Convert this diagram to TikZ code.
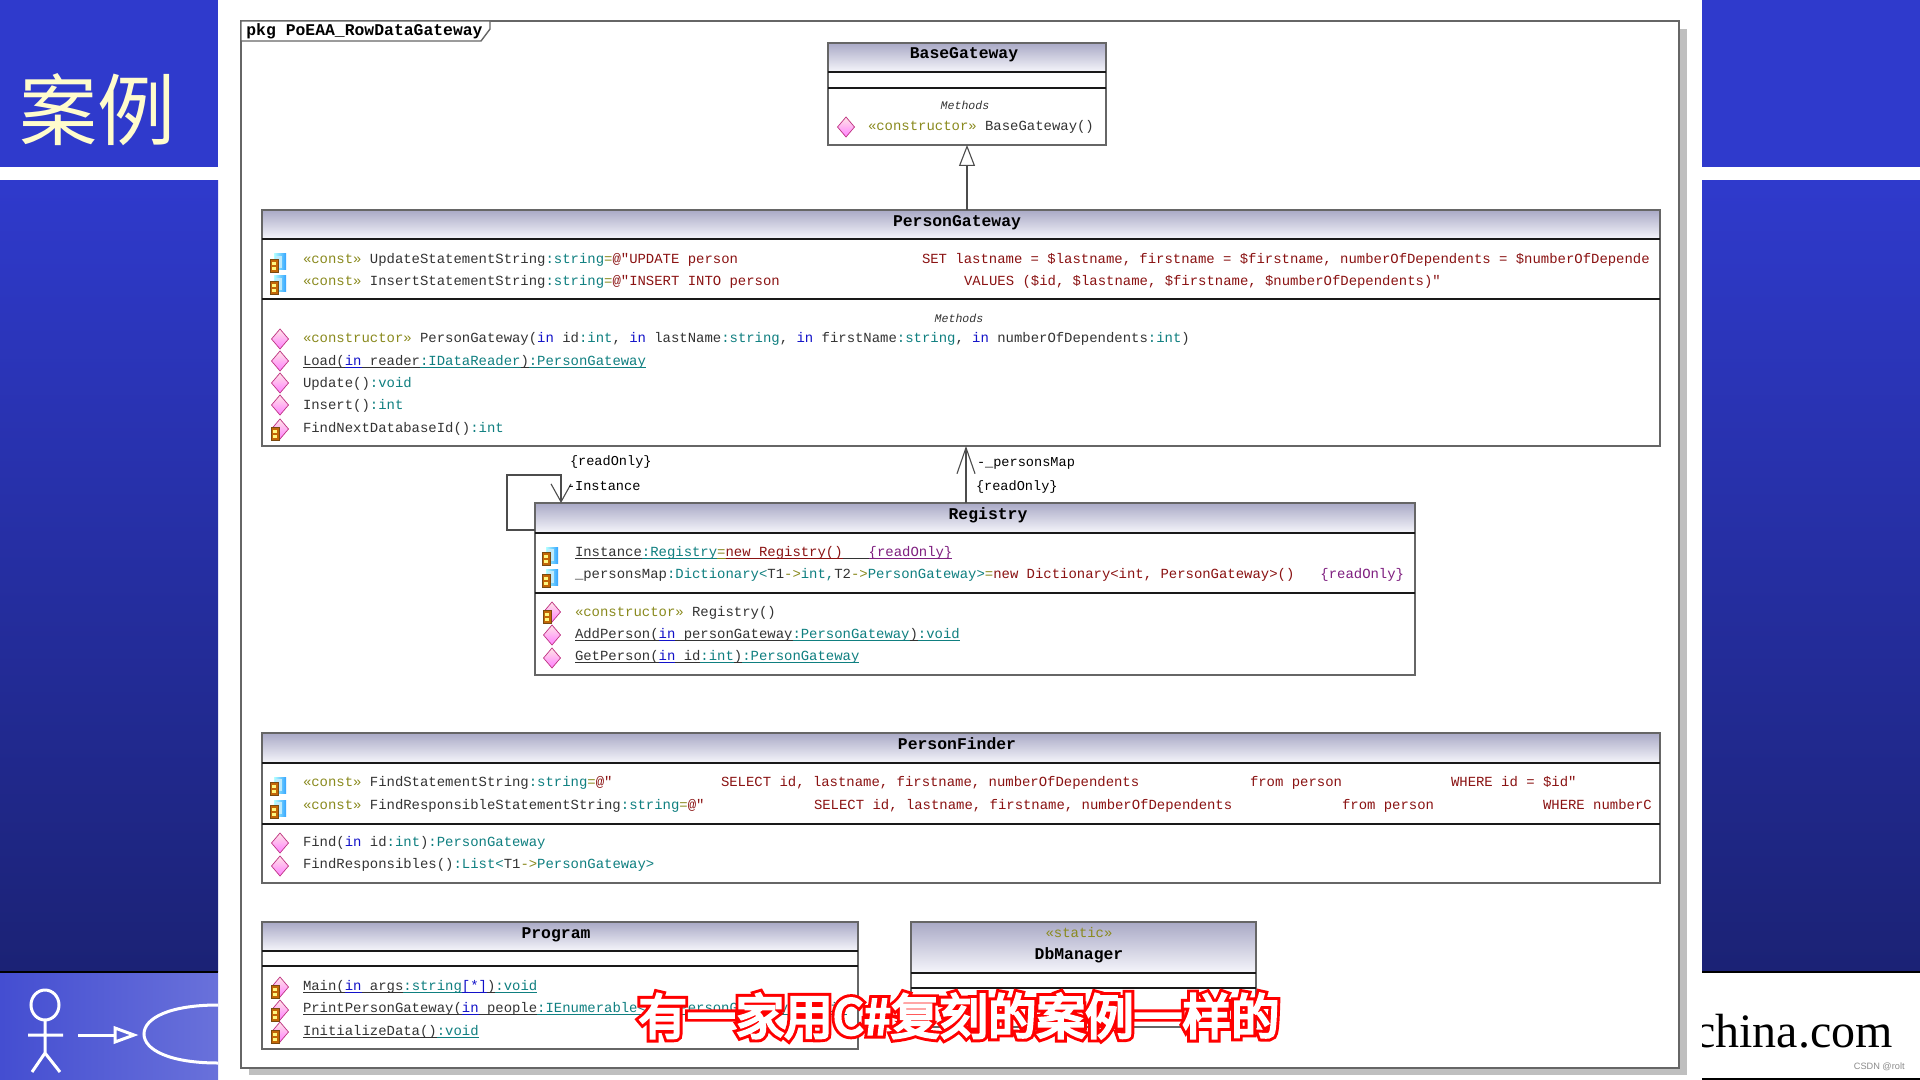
\documentclass[tikz,border=0pt]{standalone}
\usepackage{fontspec}
\usetikzlibrary{arrows.meta,calc}
\setmainfont{Liberation Serif}
\setsansfont{Liberation Sans}
\setmonofont{Liberation Mono}
\newfontfamily\cjk{Noto Sans CJK SC}
\newfontfamily\cjkA[FakeBold=17]{Noto Sans CJK SC}
\newfontfamily\cjkB[FakeBold=5]{Noto Sans CJK SC}
\definecolor{hTop}{HTML}{A9A9C6}
\definecolor{hBot}{HTML}{F6F6FB}
\definecolor{cName}{HTML}{333333}
\definecolor{cSter}{HTML}{8A8A1E}
\definecolor{cType}{HTML}{0F7F80}
\definecolor{cKey}{HTML}{1212C8}
\definecolor{cVal}{HTML}{8A1212}
\definecolor{cRO}{HTML}{7F1F80}
\definecolor{bl1}{HTML}{2F3ACC}
\definecolor{bl2}{HTML}{1B2275}
\definecolor{lockB}{HTML}{7A4A10}
\newcommand\cS[1]{{\color{cSter}#1}}
\newcommand\cT[1]{{\color{cType}#1}}
\newcommand\cK[1]{{\color{cKey}#1}}
\newcommand\cV[1]{{\color{cVal}#1}}
\newcommand\cR[1]{{\color{cRO}#1}}
\newcommand\ULn[1]{\setbox0\hbox{#1}\rlap{\rule[-1.4pt]{\wd0}{0.55pt}}\box0}
\tikzset{
 x=0.5pt,y=-0.5pt,
 member/.style={anchor=base west,inner sep=0,outer sep=0,font=\ttfamily\fontsize{6.97}{8}\selectfont,text=cName},
 title/.style={anchor=base,inner sep=0,outer sep=0,font=\ttfamily\bfseries\fontsize{8.2}{9}\selectfont,text=black},
 small/.style={anchor=base,inner sep=0,outer sep=0,font=\ttfamily\itshape\fontsize{5.8}{7}\selectfont,text=cName},
 stereo/.style={anchor=base,inner sep=0,outer sep=0,font=\ttfamily\fontsize{6.97}{8}\selectfont,text=cSter},
 assoc/.style={anchor=base west,inner sep=0,outer sep=0,font=\ttfamily\fontsize{6.8}{8}\selectfont,text=black},
 classbox/.style={draw=black!60,line width=0.7pt,fill=white,anchor=north west,inner sep=0,outer sep=0},
 sepline/.style={draw=black!90,line width=0.9pt},
 conn/.style={draw=black!70,line width=0.55pt},
}
\newcommand\ClassBox[7]{% name x1 y1 x2 y2 yh yl
 \pgfmathsetmacro\bw{(#4-#2)*0.5}\pgfmathsetmacro\bh{(#5-#3)*0.5}
 \node[classbox,minimum width=\bw pt,minimum height=\bh pt] (#1) at (#2,#3) {};
 \shade[top color=hTop,bottom color=hBot] (#2,#3) rectangle (#4,#6);
 \draw[draw=black!60,line width=0.7pt] (#2,#3) rectangle (#4,#5);
 \draw[sepline] (#2,#6) -- (#4,#6);
 \draw[sepline] (#2,#7) -- (#4,#7);
}
\newcommand\IcoLock[2]{\begin{scope}[shift={(#1,#2)}]
 \fill[draw=lockB,line width=0.45pt,fill=orange!55!lockB] (-4,-6) rectangle (4,7);
 \fill[yellow!50!white] (-2,-3) rectangle (2,0);
 \fill[yellow!50!white] (-2,2) rectangle (2,5);
\end{scope}}
\newcommand\IcoAttr[2]{\begin{scope}[shift={(#1,#2)}]
 \shade[left color=cyan!30!white,right color=blue!45!cyan!80!white] (-3,-8) rectangle (9,8);
 \fill[white!75!cyan] (-1,-6) rectangle (5,6);
 \IcoLock{-3}{3}
\end{scope}}
\newcommand\IcoOp[2]{\begin{scope}[shift={(#1,#2)}]
 \shade[top color=pink!40!white,bottom color=magenta!50!white,draw=magenta!50!violet,line width=0.35pt] (0,-10) -- (8.5,0) -- (0,10) -- (-8.5,0) -- cycle;
\end{scope}}
\newcommand\IcoOpL[2]{\IcoOp{#1}{#2}\IcoLock{\the\numexpr#1-5\relax}{\the\numexpr#2+4\relax}}
\begin{document}
\begin{tikzpicture}
\useasboundingbox (0,0) rectangle (1920,1080);
\fill[white] (0,0) rectangle (1920,1080);
% side panels
\fill[bl1] (0,0) rectangle (218,167);
\fill[bl1] (1702,0) rectangle (1920,167);
\shade[top color=bl1,bottom color=bl2] (0,181) rectangle (218,971);
\shade[top color=bl1,bottom color=bl2] (1702,181) rectangle (1920,971);
\fill[black] (1702,971) rectangle (1920,973);
\fill[black] (1702,1078) rectangle (1920,1080);
\shade[left color=bl1!90!white,right color=bl1!72!white] (0,971) rectangle (218,1080);
\fill[black] (0,971) rectangle (218,973);
\node[anchor=center,inner sep=0,text=yellow!20!white,font=\cjk\fontsize{39}{42}\selectfont] (heading) at (97,110) {案例};
% actor
\begin{scope}[draw=white,line width=1.5pt]
 \draw (45,1005) ellipse (14 and 15);
 \draw (45,1020) -- (45,1053) (28,1035) -- (63,1035) (32,1072) -- (45,1053) -- (60,1072);
 \draw (78,1035) -- (115,1035);
 \draw (115,1028) -- (134,1035) -- (115,1042) -- cycle;
 \draw (218,1005) .. controls (170,1005) and (144,1018) .. (144,1034) .. controls (144,1050) and (170,1063) .. (218,1063);
\end{scope}
\begin{scope}
 \clip (1702,973) rectangle (1920,1078);
 \node[anchor=base east,inner sep=0,text=black,font=\rmfamily\fontsize{24}{28}\selectfont] (site) at (1893,1047) {china.com};
\end{scope}
\node[anchor=base east,inner sep=0,text=black!45,font=\sffamily\fontsize{4.6}{5}\selectfont] (csdn) at (1905,1069) {CSDN @rolt};
% frame
\fill[black!25] (249,29) rectangle (1687,1075);
\node[draw=black!60,line width=0.7pt,fill=white,anchor=north west,inner sep=0,outer sep=0,minimum width=719pt,minimum height=523.5pt] (frame) at (241,21) {};
\draw[draw=black!60,line width=0.7pt,fill=white] (241,21) -- (490,21) -- (490,29) -- (481,41) -- (241,41) -- cycle;
\node[anchor=base west,inner sep=0,font=\ttfamily\bfseries\fontsize{8.2}{9}\selectfont] (pkg) at (246,36) {pkg PoEAA\_RowDataGateway};
% BaseGateway
\ClassBox{base}{828}{43}{1106}{145}{72}{88}
\node[title] (baset) at (964,59) {BaseGateway};
\node[small] (basem) at (965,110) {Methods};
\IcoOp{846}{127}
\node[member] (base1) at (868,131) {\cS{«constructor»} BaseGateway()};
% PersonGateway
\ClassBox{pg}{262}{210}{1660}{446}{239}{299}
\node[title] (pgt) at (957,227) {PersonGateway};
\IcoAttr{277}{262}\IcoAttr{277}{284}
\node[member] (pg1) at (303,264) {\cS{«const»} UpdateStatementString\cT{:string}\cS{=}\cV{@"UPDATE person}};
\node[member] (pg2) at (303,286) {\cS{«const»} InsertStatementString\cT{:string}\cS{=}\cV{@"INSERT INTO person}};
\node[member,text=cVal] (pg1b) at (922,264) {SET lastname = \$lastname, firstname = \$firstname, numberOfDependents = \$numberOfDepende};
\node[member,text=cVal] (pg2b) at (964,286) {VALUES (\$id, \$lastname, \$firstname, \$numberOfDependents)"};
\node[small] (pgm) at (959,322) {Methods};
\IcoOp{280}{339}\IcoOp{280}{361}\IcoOp{280}{383}\IcoOp{280}{405}\IcoOpL{280}{429}
\node[member] (pg3) at (303,343) {\cS{«constructor»} PersonGateway(\cK{in} id\cT{:int}, \cK{in} lastName\cT{:string}, \cK{in} firstName\cT{:string}, \cK{in} numberOfDependents\cT{:int})};
\node[member] (pg4) at (303,365) {\ULn{Load(}\cK{\ULn{in}}\ULn{ reader}\cT{\ULn{:IDataReader}}\ULn{)}\cT{\ULn{:PersonGateway}}};
\node[member] (pg5) at (303,387) {Update()\cT{:void}};
\node[member] (pg6) at (303,409) {Insert()\cT{:int}};
\node[member] (pg7) at (303,432) {FindNextDatabaseId()\cT{:int}};
% Registry
\ClassBox{reg}{535}{503}{1415}{675}{533}{593}
\node[title] (regt) at (988,519) {Registry};
\IcoAttr{549}{555}\IcoAttr{549}{577}
\node[member] (reg1) at (575,556) {\ULn{Instance}\cT{\ULn{:Registry}}\cS{\ULn{=}}\cV{\ULn{new Registry()}}\ULn{\hspace{13pt}}\cR{\ULn{\{readOnly\}}}};
\node[member] (reg2) at (575,578) {\_personsMap\cT{:Dictionary<}T1\cS{->}\cT{int,}T2\cS{->}\cT{PersonGateway>}\cS{=}\cV{new Dictionary<int, PersonGateway>()}\hspace{13pt}\cR{\{readOnly\}}};
\IcoOpL{552}{612}\IcoOp{552}{635}\IcoOp{552}{658}
\node[member] (reg3) at (575,616) {\cS{«constructor»} Registry()};
\node[member] (reg4) at (575,638) {\ULn{AddPerson(}\cK{\ULn{in}}\ULn{ personGateway}\cT{\ULn{:PersonGateway}}\ULn{)}\cT{\ULn{:void}}};
\node[member] (reg5) at (575,660) {\ULn{GetPerson(}\cK{\ULn{in}}\ULn{ id}\cT{\ULn{:int}}\ULn{)}\cT{\ULn{:PersonGateway}}};
% connectors
\coordinate (gA) at (967,210);
\draw[conn,-{Triangle[open,length=10.5pt,width=8pt,fill=white]}] (gA) -- (base.south -| gA);
\coordinate (mA) at (966,503);
\draw[conn,-{Straight Barb[length=13pt,width=9pt]}] (mA) -- (pg.south -| mA);
\coordinate (sA) at (535,530);
\coordinate (sB) at (507,530);
\coordinate (sC) at (507,475);
\coordinate (sD) at (561,475);
\coordinate (sE) at (561,503);
\draw[conn,-{Straight Barb[length=9pt,width=10pt]}] (sA) -- (sB) -- (sC) -- (sD) -- (sE);
\node[assoc] (la1) at (570,465) {\{readOnly\}};
\node[assoc] (la2) at (567,490) {-Instance};
\node[assoc] (la3) at (977,466) {-\_personsMap};
\node[assoc] (la4) at (976,490) {\{readOnly\}};
% PersonFinder
\ClassBox{pf}{262}{733}{1660}{883}{763}{824}
\node[title] (pft) at (957,749) {PersonFinder};
\IcoAttr{277}{785}\IcoAttr{277}{808}
\node[member] (pf1) at (303,786) {\cS{«const»} FindStatementString\cT{:string}\cS{=}\cV{@"}};
\node[member] (pf2) at (303,809) {\cS{«const»} FindResponsibleStatementString\cT{:string}\cS{=}\cV{@"}};
\node[member,text=cVal] (pf1b) at (721,786) {SELECT id, lastname, firstname, numberOfDependents};
\node[member,text=cVal] (pf1c) at (1250,786) {from person};
\node[member,text=cVal] (pf1d) at (1451,786) {WHERE id = \$id"};
\node[member,text=cVal] (pf2b) at (814,809) {SELECT id, lastname, firstname, numberOfDependents};
\node[member,text=cVal] (pf2c) at (1342,809) {from person};
\node[member,text=cVal] (pf2d) at (1543,809) {WHERE numberC};
\IcoOp{280}{843}\IcoOp{280}{866}
\node[member] (pf3) at (303,846) {Find(\cK{in} id\cT{:int})\cT{:PersonGateway}};
\node[member] (pf4) at (303,868) {FindResponsibles()\cT{:List<}T1\cS{->}\cT{PersonGateway>}};
% Program
\ClassBox{prog}{262}{922}{858}{1049}{951}{966}
\node[title] (progt) at (556,938) {Program};
\IcoOpL{280}{987}\IcoOpL{280}{1010}\IcoOpL{280}{1032}
\node[member] (pr1) at (303,990) {\ULn{Main(}\cK{\ULn{in}}\ULn{ args}\cT{\ULn{:string}}\cK{\ULn{[*]}}\ULn{)}\cT{\ULn{:void}}};
\node[member] (pr2) at (303,1012) {\ULn{PrintPersonGateway(}\cK{\ULn{in}}\ULn{ people}\cT{\ULn{:IEnumerable<T1->PersonGateway>}}\ULn{)}\cT{\ULn{:void}}};
\node[member] (pr3) at (303,1035) {\ULn{InitializeData()}\cT{\ULn{:void}}};
% DbManager
\ClassBox{db}{911}{922}{1256}{1027}{973}{988}
\node[stereo] (dbs) at (1079,937) {«static»};
\node[title] (dbt) at (1079,959) {DbManager};
% subtitle: red outline under white glyphs
\coordinate (subt) at (959,1016);
\node[anchor=center,inner sep=0,text=red,font=\cjkA\fontsize{24.3}{28}\selectfont] (sub1) at (subt) {有一家用C\#复刻的案例一样的};
\node[anchor=center,inner sep=0,text=white,font=\cjkB\fontsize{24.3}{28}\selectfont] (sub2) at (subt) {有一家用C\#复刻的案例一样的};
\end{tikzpicture}
\end{document}
